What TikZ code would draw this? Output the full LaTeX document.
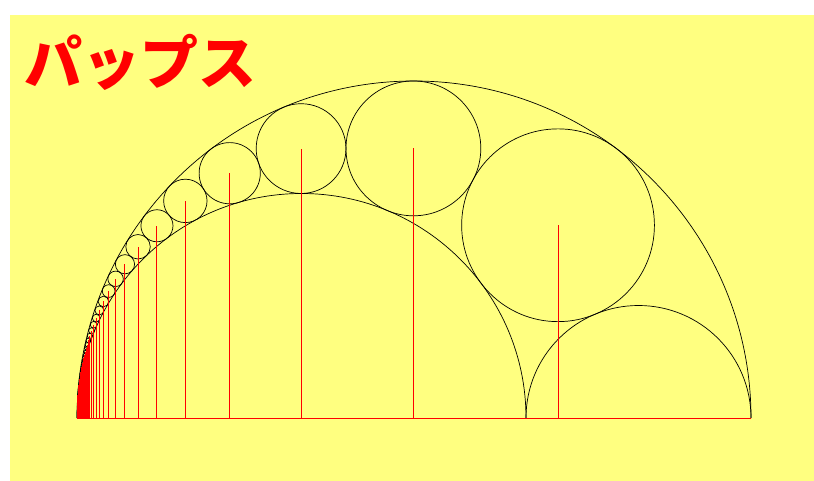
\documentclass[tikz,border=0pt]{standalone}
\usepackage{fontspec}
\newfontfamily\cjk{Noto Sans CJK JP}
\definecolor{bgyellow}{RGB}{255,255,128}
\begin{document}
\begin{tikzpicture}[x=1pt,y=-1pt,
  arcline/.style={draw=black,line width=0.7pt},
  redline/.style={draw=red,line width=1pt}]
\useasboundingbox (0,0) rectangle (814,481);
\fill[bgyellow] (10,15) rectangle (814,481);
\coordinate (A) at (77,418);
\coordinate (C) at (526,418);
\coordinate (B) at (751,418);
% semicircles
\draw[arcline] (B) arc[start angle=0,end angle=-180,radius=337];
\draw[arcline] (C) arc[start angle=0,end angle=-180,radius=224.5];
\draw[arcline] (B) arc[start angle=0,end angle=-180,radius=112.5];
% Pappus chain
\pgfmathsetmacro{\myrr}{449/674}
\foreach \n in {1,...,60}{
  \pgfmathsetmacro{\myD}{\n*\n*(1-\myrr)*(1-\myrr)+\myrr}
  \pgfmathsetmacro{\myqx}{\myrr*(1+\myrr)/(2*\myD)}
  \pgfmathsetmacro{\myqy}{\n*\myrr*(1-\myrr)/\myD}
  \pgfmathsetmacro{\myqr}{(1-\myrr)*\myrr/(2*\myD)}
  \pgfmathsetmacro{\mycx}{77+674*\myqx}
  \pgfmathsetmacro{\mycy}{418-674*\myqy}
  \pgfmathsetmacro{\myrad}{674*\myqr}
  \coordinate (c\n) at (\mycx,\mycy);
  \coordinate (f\n) at (\mycx,418);
  \draw[arcline] (c\n) circle[radius=\myrad];
}
\foreach \n in {1,...,60}{
  \draw[redline] (f\n) -- (c\n);
}
\draw[redline] (A) -- (B);
\node[anchor=west,inner sep=0pt,text=red] (title) at (24,62) {\cjk\bfseries\fontsize{58}{60}\selectfont パップス};
\end{tikzpicture}
\end{document}
